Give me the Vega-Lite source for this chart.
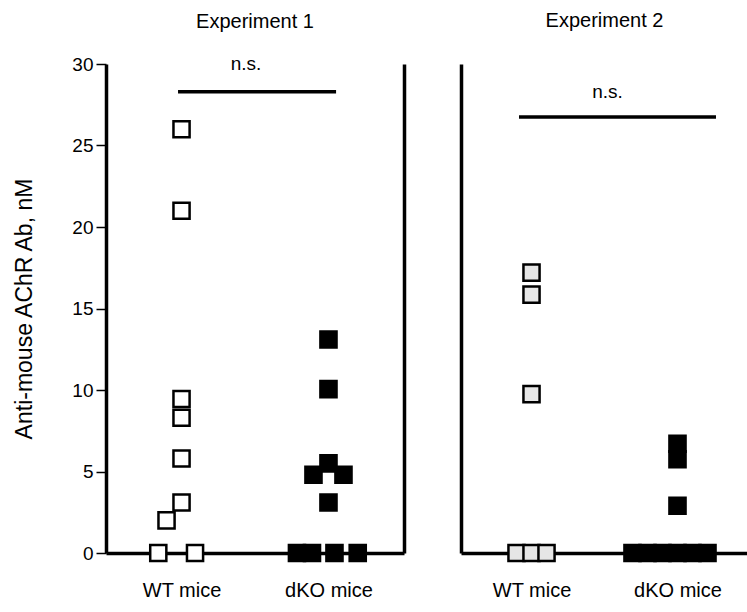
{
  "$schema": "https://vega.github.io/schema/vega-lite/v6.json",
  "background": "white",
  "padding": {"left": 13, "top": 11, "right": 0, "bottom": 0},
  "spacing": 57,
  "resolve": {"scale": {"fill": "independent", "x": "independent", "xOffset": "independent"}},
  "config": {
    "view": {"stroke": null},
    "font": "Liberation Sans",
    "axis": {
      "domainColor": "black",
      "domainWidth": 3.5,
      "tickColor": "black",
      "labelColor": "black",
      "titleColor": "black",
      "labelFont": "Liberation Sans",
      "titleFont": "Liberation Sans",
      "titleFontWeight": "normal",
      "grid": false
    },
    "title": {"font": "Liberation Sans", "fontSize": 20, "fontWeight": "normal", "color": "black", "frame": "group"}
  },
  "datasets": {
    "points": [
      {"experiment": "Experiment 1", "group": "WT mice", "value": 26.0, "jitter": 0},
      {"experiment": "Experiment 1", "group": "WT mice", "value": 21.0, "jitter": 0},
      {"experiment": "Experiment 1", "group": "WT mice", "value": 9.45, "jitter": 0},
      {"experiment": "Experiment 1", "group": "WT mice", "value": 8.3, "jitter": 0},
      {"experiment": "Experiment 1", "group": "WT mice", "value": 5.8, "jitter": 0},
      {"experiment": "Experiment 1", "group": "WT mice", "value": 3.1, "jitter": 0},
      {"experiment": "Experiment 1", "group": "WT mice", "value": 2.0, "jitter": -1},
      {"experiment": "Experiment 1", "group": "WT mice", "value": 0, "jitter": -1.55},
      {"experiment": "Experiment 1", "group": "WT mice", "value": 0, "jitter": 0.9},
      {"experiment": "Experiment 1", "group": "dKO mice", "value": 13.1, "jitter": 0},
      {"experiment": "Experiment 1", "group": "dKO mice", "value": 10.05, "jitter": 0},
      {"experiment": "Experiment 1", "group": "dKO mice", "value": 5.5, "jitter": 0},
      {"experiment": "Experiment 1", "group": "dKO mice", "value": 4.8, "jitter": -1},
      {"experiment": "Experiment 1", "group": "dKO mice", "value": 4.8, "jitter": 1},
      {"experiment": "Experiment 1", "group": "dKO mice", "value": 3.1, "jitter": 0},
      {"experiment": "Experiment 1", "group": "dKO mice", "value": 0, "jitter": -2.1},
      {"experiment": "Experiment 1", "group": "dKO mice", "value": 0, "jitter": -1.1},
      {"experiment": "Experiment 1", "group": "dKO mice", "value": 0, "jitter": 0.4},
      {"experiment": "Experiment 1", "group": "dKO mice", "value": 0, "jitter": 1.95},
      {"experiment": "Experiment 2", "group": "WT mice", "value": 17.2, "jitter": 0},
      {"experiment": "Experiment 2", "group": "WT mice", "value": 15.85, "jitter": 0},
      {"experiment": "Experiment 2", "group": "WT mice", "value": 9.75, "jitter": 0},
      {"experiment": "Experiment 2", "group": "WT mice", "value": 0, "jitter": -1},
      {"experiment": "Experiment 2", "group": "WT mice", "value": 0, "jitter": 0},
      {"experiment": "Experiment 2", "group": "WT mice", "value": 0, "jitter": 1},
      {"experiment": "Experiment 2", "group": "dKO mice", "value": 6.7, "jitter": 0},
      {"experiment": "Experiment 2", "group": "dKO mice", "value": 5.75, "jitter": 0},
      {"experiment": "Experiment 2", "group": "dKO mice", "value": 2.9, "jitter": 0},
      {"experiment": "Experiment 2", "group": "dKO mice", "value": 0, "jitter": -3},
      {"experiment": "Experiment 2", "group": "dKO mice", "value": 0, "jitter": -2},
      {"experiment": "Experiment 2", "group": "dKO mice", "value": 0, "jitter": -1},
      {"experiment": "Experiment 2", "group": "dKO mice", "value": 0, "jitter": 0},
      {"experiment": "Experiment 2", "group": "dKO mice", "value": 0, "jitter": 1},
      {"experiment": "Experiment 2", "group": "dKO mice", "value": 0, "jitter": 2}
    ],
    "sig": [
      {"experiment": "Experiment 1", "from": "WT mice", "to": "dKO mice", "line": 28.3, "label_y": 30.0, "label": "n.s."},
      {"experiment": "Experiment 2", "from": "WT mice", "to": "dKO mice", "line": 26.75, "label_y": 28.3, "label": "n.s."}
    ]
  },
  "hconcat": [
    {
      "title": {"text": "Experiment 1", "frame": "group", "offset": 23},
      "width": 298,
      "height": 489,
      "resolve": {"axis": {"y": "independent"}},
      "layer": [
        {
          "data": {"name": "points"},
          "transform": [{"filter": "datum.experiment === 'Experiment 1'"}],
          "mark": {"type": "point", "shape": "square", "size": 260, "strokeWidth": 2.5, "stroke": "black", "filled": true, "opacity": 1},
          "encoding": {
            "x": {"field": "group", "type": "nominal", "scale": {"type": "point", "padding": 0.514, "domain": ["WT mice", "dKO mice"]}, "axis": {"title": null, "ticks": false, "tickSize": 0, "labelPadding": 27, "labelAngle": 0, "labelFontSize": 20}},
            "xOffset": {"field": "jitter", "type": "quantitative", "scale": {"domain": [-4, 4], "range": [-60, 60]}},
            "y": {"field": "value", "type": "quantitative", "scale": {"domain": [0, 30], "nice": false}, "axis": {"title": "Anti-mouse AChR Ab, nM", "titleFontSize": 23, "values": [0, 5, 10, 15, 20, 25, 30], "tickSize": 10, "tickWidth": 1.5, "labelPadding": 3, "labelFontSize": 19, "titlePadding": 35}},
            "fill": {"field": "group", "type": "nominal", "scale": {"domain": ["WT mice", "dKO mice"], "range": ["white", "black"]}, "legend": null}
          }
        },
        {
          "data": {"name": "sig"},
          "transform": [{"filter": "datum.experiment === 'Experiment 1'"}],
          "mark": {"type": "rule", "strokeWidth": 3.5, "color": "black", "xOffset": -3.5, "x2Offset": 7.6},
          "encoding": {
            "x": {"field": "from", "type": "nominal", "scale": {"type": "point", "padding": 0.514, "domain": ["WT mice", "dKO mice"]}, "axis": {"title": null, "ticks": false, "tickSize": 0, "labelPadding": 27, "labelAngle": 0, "labelFontSize": 20}},
            "x2": {"field": "to"},
            "y": {"field": "line", "type": "quantitative", "scale": {"domain": [0, 30], "nice": false}, "axis": {"orient": "right", "title": null, "labels": false, "ticks": false, "domain": true}}
          }
        },
        {
          "data": {"name": "sig"},
          "transform": [{"filter": "datum.experiment === 'Experiment 1'"}],
          "mark": {"type": "text", "fontSize": 19, "dx": 64.5, "baseline": "middle", "align": "center", "color": "black"},
          "encoding": {
            "x": {"field": "from", "type": "nominal", "scale": {"type": "point", "padding": 0.514, "domain": ["WT mice", "dKO mice"]}, "axis": {"title": null, "ticks": false, "tickSize": 0, "labelPadding": 27, "labelAngle": 0, "labelFontSize": 20}},
            "y": {"field": "label_y", "type": "quantitative", "scale": {"domain": [0, 30], "nice": false}, "axis": null},
            "text": {"field": "label"}
          }
        }
      ]
    },
    {
      "title": {"text": "Experiment 2", "frame": "group", "offset": 33},
      "width": 287,
      "height": 489,
      "layer": [
        {
          "data": {"name": "points"},
          "transform": [{"filter": "datum.experiment === 'Experiment 2'"}],
          "mark": {"type": "point", "shape": "square", "size": 260, "strokeWidth": 2.5, "stroke": "black", "filled": true, "opacity": 1},
          "encoding": {
            "x": {"field": "group", "type": "nominal", "scale": {"type": "point", "padding": 0.483, "domain": ["WT mice", "dKO mice"]}, "axis": {"title": null, "ticks": false, "tickSize": 0, "labelPadding": 27, "labelAngle": 0, "labelFontSize": 20}},
            "xOffset": {"field": "jitter", "type": "quantitative", "scale": {"domain": [-4, 4], "range": [-60, 60]}},
            "y": {"field": "value", "type": "quantitative", "scale": {"domain": [0, 30], "nice": false}, "axis": {"title": null, "labels": false, "ticks": false, "domain": true}},
            "fill": {"field": "group", "type": "nominal", "scale": {"domain": ["WT mice", "dKO mice"], "range": ["#e6e6e6", "black"]}, "legend": null}
          }
        },
        {
          "data": {"name": "sig"},
          "transform": [{"filter": "datum.experiment === 'Experiment 2'"}],
          "mark": {"type": "rule", "strokeWidth": 3.5, "color": "black", "xOffset": -12.5, "x2Offset": 38.5},
          "encoding": {
            "x": {"field": "from", "type": "nominal", "scale": {"type": "point", "padding": 0.483, "domain": ["WT mice", "dKO mice"]}, "axis": {"title": null, "ticks": false, "tickSize": 0, "labelPadding": 27, "labelAngle": 0, "labelFontSize": 20}},
            "x2": {"field": "to"},
            "y": {"field": "line", "type": "quantitative", "scale": {"domain": [0, 30], "nice": false}, "axis": {"title": null, "labels": false, "ticks": false, "domain": true}}
          }
        },
        {
          "data": {"name": "sig"},
          "transform": [{"filter": "datum.experiment === 'Experiment 2'"}],
          "mark": {"type": "text", "fontSize": 19, "dx": 76, "baseline": "middle", "align": "center", "color": "black"},
          "encoding": {
            "x": {"field": "from", "type": "nominal", "scale": {"type": "point", "padding": 0.483, "domain": ["WT mice", "dKO mice"]}, "axis": {"title": null, "ticks": false, "tickSize": 0, "labelPadding": 27, "labelAngle": 0, "labelFontSize": 20}},
            "y": {"field": "label_y", "type": "quantitative", "scale": {"domain": [0, 30], "nice": false}, "axis": {"title": null, "labels": false, "ticks": false, "domain": true}},
            "text": {"field": "label"}
          }
        }
      ]
    }
  ]
}
